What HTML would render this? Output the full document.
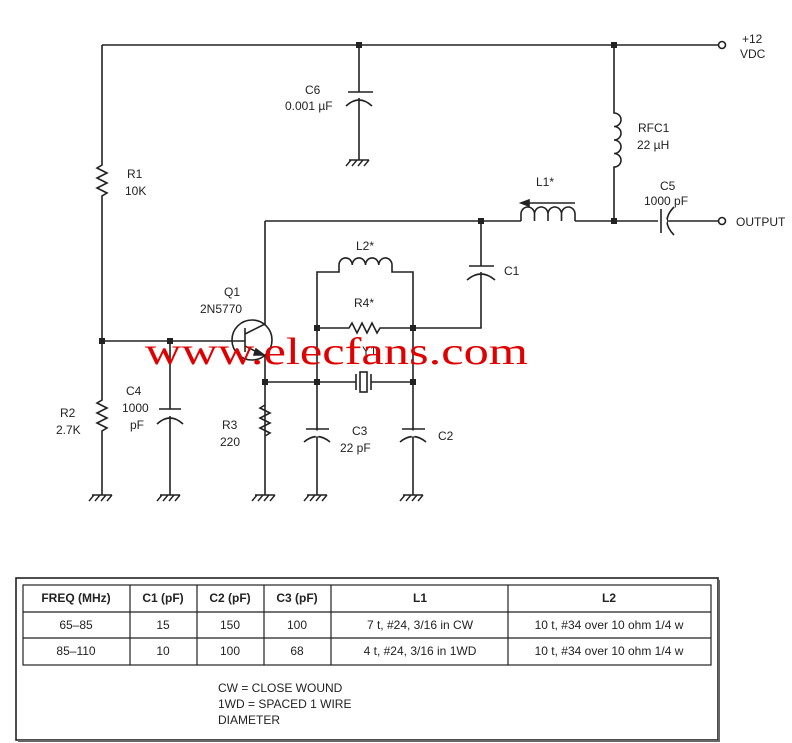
<!DOCTYPE html>
<html><head><meta charset="utf-8"><style>
html,body{margin:0;padding:0;background:#fff;}
svg{display:block}
text{font-family:"Liberation Sans",sans-serif;font-size:12px;fill:#222}
</style></head><body>
<svg width="792" height="743" viewBox="0 0 792 743" xmlns="http://www.w3.org/2000/svg">
<g fill="none" stroke="#222" stroke-width="1.6">
<!-- top rail -->
<path d="M102 45 H718"/>
<circle cx="722" cy="45" r="3.5"/>
<!-- left vertical with R1, R2 -->
<path d="M102 45 V165 l-5 3 l10 5 l-10 5 l10 5 l-10 5 l10 5 l-5 3 V400 l-5 3 l10 5 l-10 5 l10 5 l-10 5 l10 5 l-5 3 V495"/>
<!-- base line -->
<path d="M102 341 H245"/>
<!-- C4 -->
<path d="M170 341 V409 M159 409 H181 M157 424 Q170 412 183 424 M170 416 V495"/>
<!-- C6 -->
<path d="M359 45 V92 M348 92 H373 M346 106 Q359 94 372 106 M359 98 V160"/>
<!-- transistor -->
<circle cx="252" cy="340" r="20"/>
<path d="M245 328 V352 M245 334 L265 324 V221 M245 346 L265 356 V495"/>
<path d="M256 349 l8 6 l-10 0 z" fill="#222"/>
<!-- R3 -->
<path d="M265 405 l-5 3 l10 5 l-10 5 l10 5 l-10 5 l10 5 l-5 3" />
<!-- collector line -->
<path d="M265 221 H521 M575 221 H658 M668 221 H718"/>
<circle cx="722" cy="221" r="3.5"/>
<!-- L1 coil -->
<path d="M521 221 V214 a6.75 7 0 0 1 13.5 0 a6.75 7 0 0 1 13.5 0 a6.75 7 0 0 1 13.5 0 a6.75 7 0 0 1 13.5 0 V221 M534.5 214 V221 M548 214 V221 M561.5 214 V221"/>
<path d="M523 203 H575"/>
<path d="M521 203 l8 -3 v6 z" fill="#222"/>
<!-- RFC1 -->
<path d="M614 45 V113 a7 6.75 0 0 1 0 13.5 a7 6.75 0 0 1 0 13.5 a7 6.75 0 0 1 0 13.5 a7 6.75 0 0 1 0 13.5 V221"/>
<!-- C5 -->
<path d="M661 209 V233 M674 207 Q660 221 674 235"/>
<!-- C1 -->
<path d="M481 221 V266 M469 266 H494 M467 280 Q481 268 495 280 M481 272 V328 H413"/>
<!-- L2 and R4 frame -->
<path d="M317 495 V272 H339 V265 a6.6 7 0 0 1 13.25 0 a6.6 7 0 0 1 13.25 0 a6.6 7 0 0 1 13.25 0 a6.6 7 0 0 1 13.25 0 V272 H413 V495"/>
<path d="M317 328 H349 l3 -5 l5 10 l5 -10 l5 10 l5 -10 l5 10 l3 -5 H413"/>
<!-- crystal line -->
<path d="M265 382 H356 M371 382 H413 M356 374 V390 M371 374 V390"/>
<rect x="360" y="372" width="7" height="20"/>
<!-- C3, C2 -->
<path d="M306 429 H329 M304 442 Q317 431 330 442 M402 429 H425 M400 442 Q413 431 426 442"/>
<rect x="317" y="430" width="0" height="0"/>
</g>
<!-- white gaps for C3/C2 -->
<g stroke="#fff" stroke-width="3"><path d="M317 430.5 V436.5 M413 430.5 V436.5 M170 410.5 V415 M359 93.5 V97 M481 267.5 V271 M662 221 H667"/></g>
<!-- grounds -->
<g stroke="#222" stroke-width="1.4" fill="none">
<path d="M92 495 H112 M94 495 l-5 6 M100 495 l-5 6 M106 495 l-5 6 M112 495 l-5 6"/>
<path d="M160 495 H180 M162 495 l-5 6 M168 495 l-5 6 M174 495 l-5 6 M180 495 l-5 6"/>
<path d="M255 495 H275 M257 495 l-5 6 M263 495 l-5 6 M269 495 l-5 6 M275 495 l-5 6"/>
<path d="M307 495 H327 M309 495 l-5 6 M315 495 l-5 6 M321 495 l-5 6 M327 495 l-5 6"/>
<path d="M403 495 H423 M405 495 l-5 6 M411 495 l-5 6 M417 495 l-5 6 M423 495 l-5 6"/>
<path d="M349 160 H369 M351 160 l-5 6 M357 160 l-5 6 M363 160 l-5 6 M369 160 l-5 6"/>
</g>
<!-- dots -->
<g fill="#222">
<rect x="356" y="42" width="6" height="6"/><rect x="611" y="42" width="6" height="6"/>
<rect x="478" y="218" width="6" height="6"/><rect x="611" y="218" width="6" height="6"/>
<rect x="99" y="338" width="6" height="6"/><rect x="167" y="338" width="6" height="6"/>
<rect x="314" y="325" width="6" height="6"/><rect x="410" y="325" width="6" height="6"/>
<rect x="262" y="379" width="6" height="6"/><rect x="314" y="379" width="6" height="6"/><rect x="410" y="379" width="6" height="6"/>
</g>
<!-- labels -->
<text x="742" y="43">+12</text><text x="740" y="58">VDC</text>
<text x="736" y="226">OUTPUT</text>
<text x="305" y="94">C6</text><text x="285" y="110">0.001 µF</text>
<text x="127" y="178">R1</text><text x="125" y="195">10K</text>
<text x="638" y="132">RFC1</text><text x="637" y="149">22 µH</text>
<text x="536" y="186">L1*</text>
<text x="660" y="190">C5</text><text x="644" y="205">1000 pF</text>
<text x="356" y="250">L2*</text>
<text x="354" y="307">R4*</text>
<text x="504" y="275">C1</text>
<text x="224" y="296">Q1</text><text x="200" y="313">2N5770</text>
<text x="362" y="355">Y1</text>
<text x="126" y="395">C4</text><text x="122" y="412">1000</text><text x="130" y="429">pF</text>
<text x="60" y="417">R2</text><text x="56" y="434">2.7K</text>
<text x="222" y="429">R3</text><text x="220" y="446">220</text>
<text x="352" y="435">C3</text><text x="340" y="452">22 pF</text>
<text x="438" y="440">C2</text>
<!-- watermark -->
<text x="145" y="364" textLength="383" lengthAdjust="spacingAndGlyphs" style="font-family:'Liberation Serif',serif;font-size:38px;fill:#e00000">www.elecfans.com</text>
<!-- table -->
<rect x="16" y="578" width="702" height="162" fill="none" stroke="#222" stroke-width="1.6"/>
<path d="M18 741 H719 V580" stroke="#666" stroke-width="2" fill="none"/>
<g stroke="#222" stroke-width="1.2" fill="none">
<rect x="23" y="585" width="688" height="80"/>
<path d="M23 612 H711 M23 638 H711 M130 585 V665 M197 585 V665 M264 585 V665 M331 585 V665 M508 585 V665"/>
</g>
<g style="font-size:11px" text-anchor="middle">
<text x="76" y="602" font-weight="bold">FREQ (MHz)</text><text x="163" y="602" font-weight="bold">C1 (pF)</text><text x="230" y="602" font-weight="bold">C2 (pF)</text><text x="297" y="602" font-weight="bold">C3 (pF)</text><text x="420" y="602" font-weight="bold">L1</text><text x="609" y="602" font-weight="bold">L2</text>
<text x="76" y="629">65–85</text><text x="163" y="629">15</text><text x="230" y="629">150</text><text x="297" y="629">100</text><text x="420" y="629">7 t, #24, 3/16 in CW</text><text x="609" y="629">10 t, #34 over 10 ohm 1/4 w</text>
<text x="76" y="655">85–110</text><text x="163" y="655">10</text><text x="230" y="655">100</text><text x="297" y="655">68</text><text x="420" y="655">4 t, #24, 3/16 in 1WD</text><text x="609" y="655">10 t, #34 over 10 ohm 1/4 w</text>
</g>
<g style="font-size:11px">
<text x="218" y="692">CW = CLOSE WOUND</text><text x="218" y="708">1WD = SPACED 1 WIRE</text><text x="218" y="724">DIAMETER</text>
</g>
</svg>
</body></html>
